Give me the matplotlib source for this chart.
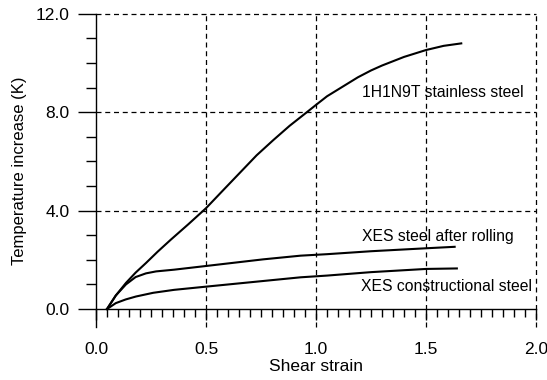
import numpy as np
import matplotlib.pyplot as plt
from matplotlib.ticker import MultipleLocator

plt.rcParams['font.family'] = ['Liberation Sans', 'DejaVu Sans']

# Curves (shear strain, temperature increase in K)
stainless_x = [0.05, 0.09, 0.136, 0.18, 0.227, 0.28, 0.34, 0.42, 0.5, 0.58, 0.655, 0.73,
               0.806, 0.88, 0.958, 1.0, 1.05, 1.11, 1.19, 1.25, 1.3, 1.4, 1.5, 1.58, 1.66]
stainless_y = [0.0, 0.55, 1.06, 1.48, 1.87, 2.33, 2.82, 3.45, 4.1, 4.85, 5.55, 6.25,
               6.87, 7.45, 8.0, 8.3, 8.65, 8.98, 9.42, 9.7, 9.9, 10.25, 10.53, 10.7, 10.8]

rolling_x = [0.05, 0.09, 0.136, 0.18, 0.227, 0.273, 0.355, 0.5, 0.76, 0.93, 1.05, 1.25, 1.5, 1.63]
rolling_y = [0.0, 0.55, 1.0, 1.3, 1.45, 1.53, 1.6, 1.75, 2.02, 2.17, 2.23, 2.35, 2.47, 2.53]

constr_x = [0.05, 0.09, 0.135, 0.182, 0.26, 0.355, 0.5, 0.76, 0.93, 1.05, 1.25, 1.5, 1.64]
constr_y = [0.0, 0.24, 0.39, 0.51, 0.66, 0.78, 0.91, 1.14, 1.29, 1.36, 1.5, 1.63, 1.65]

labels = ["1H1N9T stainless steel", "XES steel after rolling", "XES constructional steel"]
label_pos = [(1.21, 8.82), (1.21, 2.93), (1.205, 0.93)]

fig = plt.figure(figsize=(5.47, 3.80), dpi=100)
ax = fig.add_axes([0.1755, 0.1395, 0.8045, 0.824])

for xs, ys in [(stainless_x, stainless_y), (rolling_x, rolling_y), (constr_x, constr_y)]:
    ax.plot(xs, ys, color='black', linewidth=1.5)

for txt, (tx, ty) in zip(labels, label_pos):
    ax.text(tx, ty, txt, fontsize=11.3, va='center', ha='left')

ax.set_xlim(0, 2.0)
ax.set_ylim(-0.73, 12)

# axis styling: bottom spine sits at y=0, no top/right spines
ax.spines['bottom'].set_position(('data', 0))
ax.spines['top'].set_visible(False)
ax.spines['right'].set_visible(False)
ax.spines['left'].set_linewidth(1.0)
ax.spines['bottom'].set_linewidth(1.0)

ax.xaxis.set_major_locator(MultipleLocator(0.5))
ax.xaxis.set_minor_locator(MultipleLocator(0.05))
ax.yaxis.set_major_locator(MultipleLocator(4))
ax.yaxis.set_minor_locator(MultipleLocator(1))
ax.xaxis.set_major_formatter(lambda v, p: f"{v:.1f}")
ax.yaxis.set_major_formatter(lambda v, p: f"{v:.1f}")

ax.tick_params(axis='x', which='major', direction='out', length=8, width=1, pad=16, labelsize=12.5)
ax.tick_params(axis='x', which='minor', direction='out', length=6, width=1)
ax.tick_params(axis='y', which='major', direction='out', length=13, width=1, pad=6, labelsize=12.5)
ax.tick_params(axis='y', which='minor', direction='out', length=7, width=1)

for x in [0.5, 1.0, 1.5, 2.0]:
    ax.axvline(x, color='black', linestyle=(0, (4, 3)), linewidth=0.9, clip_on=False)
for y in [4, 8, 12]:
    ax.axhline(y, color='black', linestyle=(0, (4, 3)), linewidth=0.9, clip_on=False)

ax.set_xlabel("Shear strain", fontsize=12.5, labelpad=1)
ax.set_ylabel("Temperature increase (K)", fontsize=12, labelpad=6)

fig.savefig("out.png", dpi=100)
